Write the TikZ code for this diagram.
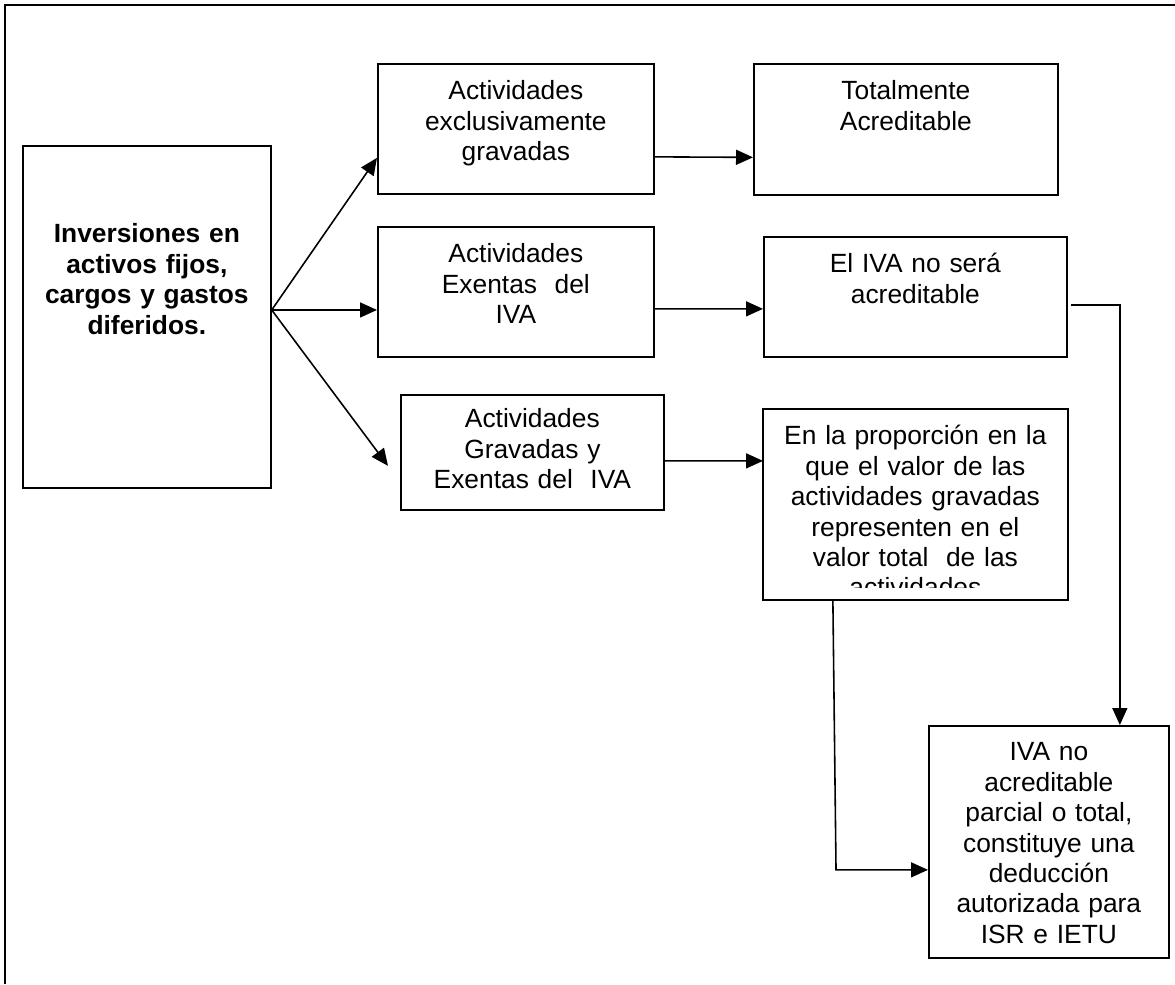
\documentclass[tikz,border=0pt]{standalone}
\usepackage{fontspec}
\setsansfont{Liberation Sans}
\usepackage{tikz}
\usetikzlibrary{arrows.meta, positioning, calc}

\begin{document}
\begin{tikzpicture}[
		x=0.02cm, y=-0.02cm,
		textblock/.style={rectangle, draw=black, line width=1pt, anchor=north west, inner sep=0pt, align=center, text height=0.72cm, font=\fontsize{15}{17.3}\selectfont\sffamily},
		arrow/.style={-{Triangle[length=0.34cm, width=0.30cm]}, line width=0.9pt, draw=black}
	]

	\useasboundingbox (0,0) rectangle (1175,984);
	\draw[line width=1.3pt] (5,984) -- (5,5) -- (1175,5);

	\node[textblock, text width=4.96cm, text height=1.94cm, text depth=4.90cm, font=\fontsize{15}{17.3}\selectfont\sffamily\bfseries] (inv) at (22,145) {Inversiones en\\activos fijos,\\cargos y gastos\\diferidos.};

	\node[textblock, text width=5.52cm, text depth=1.88cm] (act1) at (377,63) {Actividades\\exclusivamente\\gravadas};
	\node[textblock, text width=5.52cm, text depth=1.88cm] (act2) at (377,226) {Actividades\\Exentas\ \ del\\IVA};
	\node[textblock, text width=5.26cm, text height=0.66cm, text depth=1.64cm] (act3) at (400,394) {Actividades\\Gravadas y\\Exentas del\ \ IVA};

	\node[textblock, text width=6.08cm, text depth=1.90cm] (res1) at (753,63) {Totalmente\\Acreditable};
	\node[textblock, text width=6.06cm, text depth=1.68cm] (res2) at (763,236) {El IVA no será\\acreditable};
	\begin{scope}
		\clip (763,409) rectangle (1066,587);
		\node[textblock, draw=none, text width=6.06cm, text height=0.70cm, text depth=3.08cm] (res3) at (763,409) {En la proporción en la\\que el valor de las\\actividades gravadas\\representen en el\\valor total\ \ de las\\actividades};
	\end{scope}
	\draw[line width=1pt] (res3.north west) rectangle (res3.south east);

	\node[textblock, text width=4.80cm, text height=0.70cm, text depth=3.94cm] (final) at (928,725) {IVA no\\acreditable\\parcial o total,\\constituye una\\deducción\\autorizada para\\ISR e IETU};

	\coordinate (fork) at ([yshift=-3.30cm]inv.north east);
	\coordinate (bend) at ([xshift=-1.84cm, yshift=-0.56cm]final.west);

	\draw[arrow] (fork) -- ([yshift=-0.58cm]act1.west);
	\draw[arrow] (fork) -- (fork -| act2.west);
	\draw[arrow] (fork) -- ([xshift=-0.24cm, yshift=-0.27cm]act3.west);

	\draw[arrow] ([yshift=-0.56cm]act1.east) -- ([yshift=-0.56cm]res1.west);
	\draw[arrow] ([yshift=-0.34cm]act2.east) -- ([yshift=-0.24cm]res2.west);
	\draw[arrow] ([yshift=-0.17cm]act3.east) -- ([yshift=0.87cm]res3.west);

	\draw[arrow] ([xshift=0.06cm, yshift=-0.16cm]res2.east) -| ([xshift=1.42cm]final.north);
	\draw[arrow] ([xshift=-1.65cm]res3.south) -- (bend) -- (bend -| final.west);

\end{tikzpicture}
\end{document}
